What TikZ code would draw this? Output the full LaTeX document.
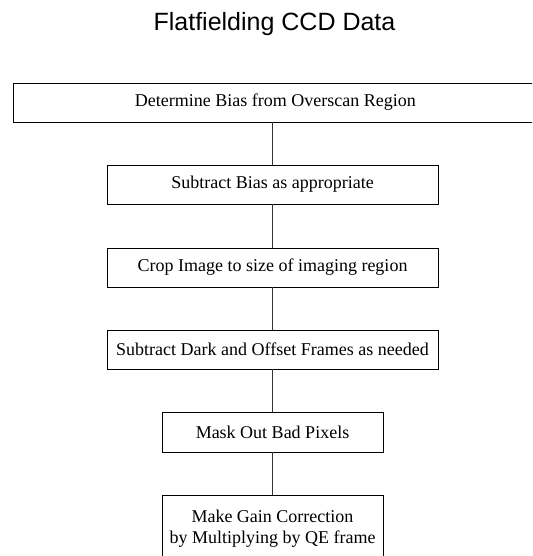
\documentclass[tikz,border=0pt]{standalone}
\usepackage{fontspec}
\setmainfont{Liberation Serif}
\newfontfamily\titlefont{Liberation Sans}
\begin{document}
\begin{tikzpicture}[x=1pt,y=-1pt,
  stepbox/.style={draw=black, line width=0.9pt, inner sep=0pt, align=center,
    font=\fontsize{18}{20.5}\selectfont},
  link/.style={draw=black!80, line width=0.9pt}]
\useasboundingbox (0,0) rectangle (532,556);
\clip (0,0) rectangle (532,556);
\node[font=\titlefont\fontsize{25}{30}\selectfont, anchor=base] (title) at (274.5,31) {Flatfielding CCD Data};
\node[stepbox, minimum width=524, minimum height=39, anchor=west] (b1) at (13,102.5) {Determine Bias from Overscan Region};
\node[stepbox, minimum width=331, minimum height=39] (b2) at (272.5,184.5) {Subtract Bias as appropriate};
\node[stepbox, minimum width=331, minimum height=39] (b3) at (272.5,267.5) {Crop Image to size of imaging region};
\node[stepbox, minimum width=331, minimum height=39] (b4) at (272.5,349.5) {Subtract Dark and Offset Frames as needed};
\node[stepbox, minimum width=221, minimum height=40] (b5) at (272.5,432) {Mask Out Bad Pixels};
\node[stepbox, minimum width=221, minimum height=66, anchor=north] (b6) at (272.5,495) {Make Gain Correction\\by Multiplying by QE frame};
\draw[link] (b1.south -| b2.north) -- (b2.north);
\draw[link] (b2.south) -- (b3.north);
\draw[link] (b3.south) -- (b4.north);
\draw[link] (b4.south) -- (b5.north);
\draw[link] (b5.south) -- (b6.north);
\end{tikzpicture}
\end{document}
